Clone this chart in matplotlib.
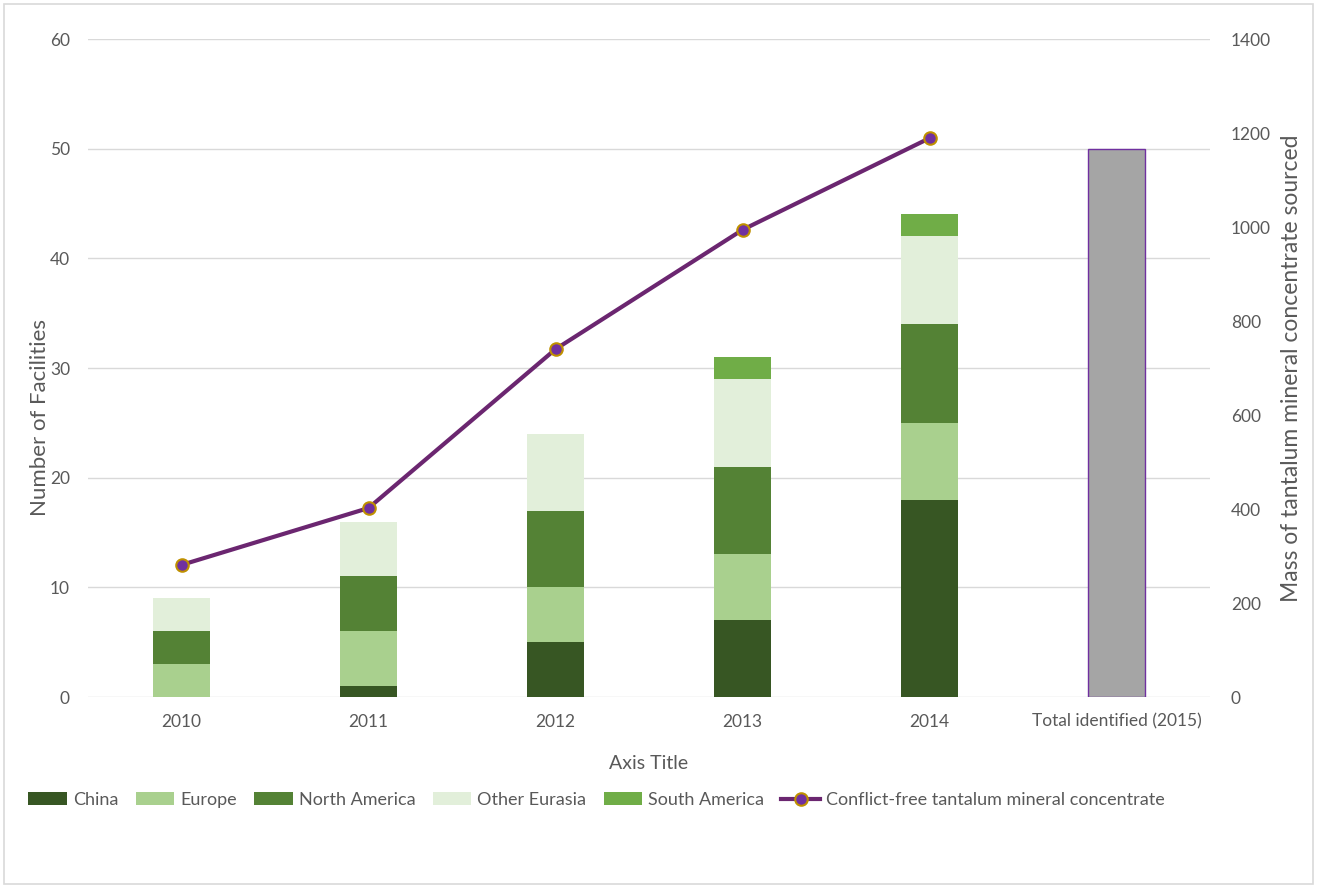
import matplotlib
matplotlib.use("Agg")
import matplotlib.pyplot as plt
from matplotlib.patches import Rectangle
import numpy as np

plt.rcParams['font.family'] = ['Lato', 'DejaVu Sans']

categories = ["2010", "2011", "2012", "2013", "2014", "Total identified (2015)"]
china = [0, 1, 5, 7, 18, 0]
europe = [3, 5, 5, 6, 7, 0]
north_america = [3, 5, 7, 8, 9, 0]
other_eurasia = [3, 5, 7, 8, 8, 0]
south_america = [0, 0, 0, 2, 2, 0]
total_identified = [0, 0, 0, 0, 0, 50]
mass_sourced = [281, 402, 740, 994, 1189]

series = [
    ("China", china, "#375623"),
    ("Europe", europe, "#A9D08E"),
    ("North America", north_america, "#548235"),
    ("Other Eurasia", other_eurasia, "#E2EFDA"),
    ("South America", south_america, "#70AD47"),
]

text_color = "#595959"
grid_color = "#D9D9D9"

W, H = 1319, 888
fig = plt.figure(figsize=(W / 100, H / 100), dpi=100)
ax = fig.add_axes([88 / W, 1 - 697 / H, 1122 / W, 658 / H])
ax2 = ax.twinx()

x = np.arange(len(categories))
width = 0.31
bottom = np.zeros(len(categories))
handles = []
for name, vals, color in series:
    vals = np.array(vals, dtype=float)
    h = ax.bar(x, vals, width, bottom=bottom, color=color, label=name, zorder=3)
    handles.append(h)
    bottom += vals

ax.bar(x[-1:], total_identified[-1:], width, color="#A5A5A5",
       edgecolor="#7030A0", linewidth=1.0, zorder=3)

line, = ax2.plot(x[:len(mass_sourced)], mass_sourced, color="#6B2670", linewidth=3,
                 marker="o", markersize=9, markerfacecolor="#7030A0",
                 markeredgecolor="#BF9000", markeredgewidth=1.5, zorder=4,
                 label="Conflict-free tantalum mineral concentrate")
handles.append(line)

ax.set_xlim(-0.5, len(categories) - 0.5)
ax.set_ylim(0, 60)
ax.set_yticks(range(0, 61, 10))
ax2.set_ylim(0, 1400)
ax2.set_yticks(range(0, 1401, 200))
ax.set_xticks(x)
ax.set_xticklabels(categories)

ax.yaxis.grid(True, color=grid_color, linewidth=1, zorder=0)
ax.set_axisbelow(True)
for a in (ax, ax2):
    for s in a.spines.values():
        s.set_visible(False)
    a.tick_params(length=0, colors=text_color, labelsize=12.5)
ax.tick_params(axis="y", pad=13)
ax2.tick_params(axis="y", pad=15)
ax.tick_params(axis="x", pad=12)

ax.set_ylabel("Number of Facilities", color=text_color, fontsize=16)
ax.yaxis.set_label_coords((50 - 88) / 1122, (697 - 417) / 658)
ax2.set_ylabel("Mass of tantalum mineral concentrate sourced", color=text_color,
               fontsize=16.5)
ax2.yaxis.set_label_coords((1281 - 88) / 1122, 0.5)
ax.set_xlabel("Axis Title", color=text_color, fontsize=14, labelpad=18)

leg = fig.legend(handles=handles, loc="center left", bbox_to_anchor=(21 / W, 1 - 800 / H),
                 ncol=6, frameon=False, fontsize=13, handlelength=2.15,
                 handletextpad=0.33, columnspacing=0.95, borderaxespad=0)
for t in leg.get_texts():
    t.set_color(text_color)

fig.patches.append(Rectangle((4 / W, 4 / H), 1309 / W, 880 / H,
                             transform=fig.transFigure, fill=False,
                             edgecolor="#D9D9D9", linewidth=1.2))

fig.savefig("out.png", dpi=100, facecolor="white")
